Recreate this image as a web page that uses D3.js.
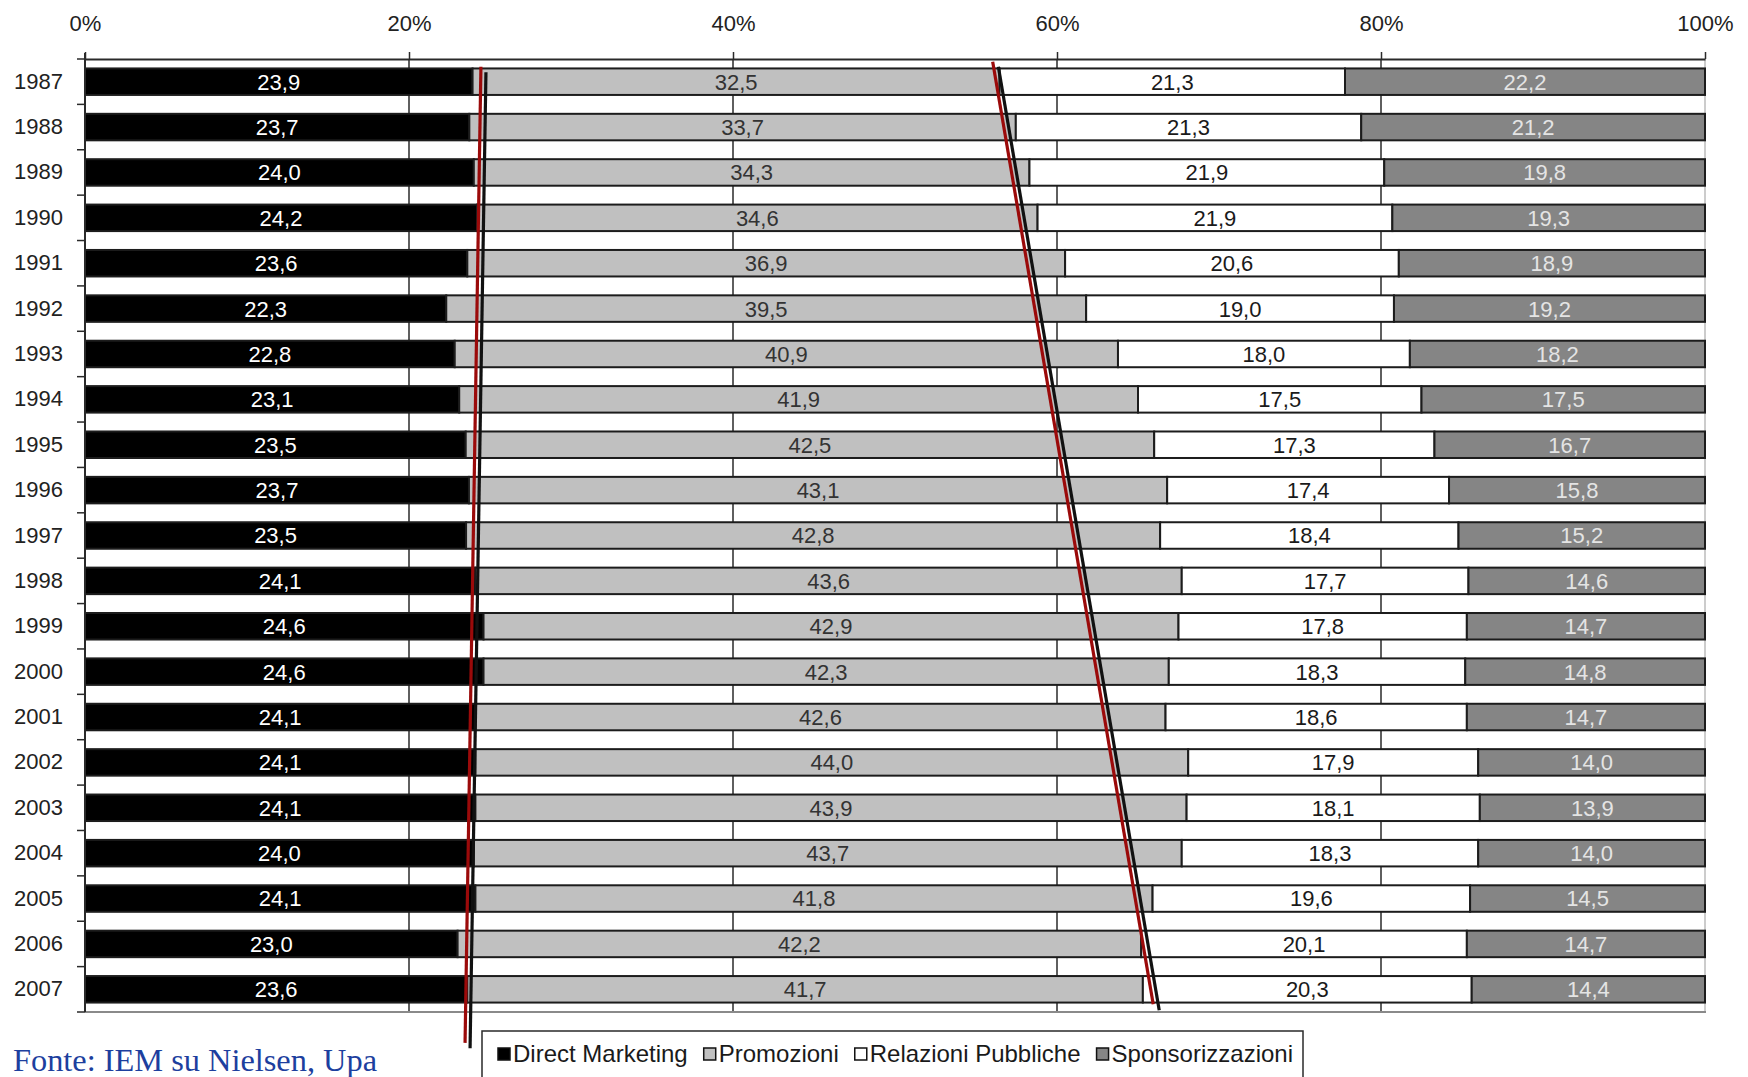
<!DOCTYPE html>
<html>
<head>
<meta charset="utf-8">
<script src="https://cdn.jsdelivr.net/npm/d3@7"></script>
<style>
  html, body { margin: 0; padding: 0; background: #fff; }
  svg { display: block; }
  .sans { font-family: "Liberation Sans", Arial, sans-serif; }
  .serif { font-family: "Liberation Serif", "Times New Roman", serif; }
</style>
</head>
<body>
<svg id="chart" width="1748" height="1077"></svg>
<script>
// Quota percentuale dei mezzi "below the line", 1987-2007
const years = [1987, 1988, 1989, 1990, 1991, 1992, 1993, 1994, 1995, 1996, 1997,
               1998, 1999, 2000, 2001, 2002, 2003, 2004, 2005, 2006, 2007];
const directMarketing    = [23.9, 23.7, 24.0, 24.2, 23.6, 22.3, 22.8, 23.1, 23.5, 23.7, 23.5,
                            24.1, 24.6, 24.6, 24.1, 24.1, 24.1, 24.0, 24.1, 23.0, 23.6];
const promozioni         = [32.5, 33.7, 34.3, 34.6, 36.9, 39.5, 40.9, 41.9, 42.5, 43.1, 42.8,
                            43.6, 42.9, 42.3, 42.6, 44.0, 43.9, 43.7, 41.8, 42.2, 41.7];
const relazioniPubbliche = [21.3, 21.3, 21.9, 21.9, 20.6, 19.0, 18.0, 17.5, 17.3, 17.4, 18.4,
                            17.7, 17.8, 18.3, 18.6, 17.9, 18.1, 18.3, 19.6, 20.1, 20.3];
const sponsorizzazioni   = [22.2, 21.2, 19.8, 19.3, 18.9, 19.2, 18.2, 17.5, 16.7, 15.8, 15.2,
                            14.6, 14.7, 14.8, 14.7, 14.0, 13.9, 14.0, 14.5, 14.7, 14.4];
const seriesNames = ["Direct Marketing", "Promozioni", "Relazioni Pubbliche", "Sponsorizzazioni"];
const xTicks = [0, 0.2, 0.4, 0.6, 0.8, 1];
const sourceNote = "Fonte: IEM su Nielsen, Upa";

// Linee di tendenza tracciate a mano: x in quota (0-1), y in righe (0 = bordo alto del 1987)
const trendLines = [
  { x0: 0.2444, r0: 0.17, x1: 0.2346, r1: 21.68, color: "#9b0a0a" },
  { x0: 0.2475, r0: 0.29, x1: 0.2377, r1: 21.80, color: "#111" },
  { x0: 0.5603, r0: 0.06, x1: 0.6594, r1: 20.83, color: "#9b0a0a" },
  { x0: 0.5638, r0: 0.17, x1: 0.6631, r1: 20.96, color: "#111" }
];

const fills = ["#000000", "#c0c0c0", "#ffffff", "#858585"];
const labelColors = ["#ffffff", "#333333", "#1a1a1a", "#e4e4e4"];

const svg = d3.select("#chart");
const plot = { left: 85, right: 1705, top: 59, bottom: 1012 };

const rows = years.map((y, i) => ({
  year: y,
  "Direct Marketing": directMarketing[i],
  "Promozioni": promozioni[i],
  "Relazioni Pubbliche": relazioniPubbliche[i],
  "Sponsorizzazioni": sponsorizzazioni[i]
}));

const stacked = d3.stack().keys(seriesNames).offset(d3.stackOffsetExpand)(rows);

const x = d3.scaleLinear().domain([0, 1]).range([plot.left, plot.right]);
const y = d3.scaleBand().domain(years).range([plot.top, plot.bottom])
  .paddingInner(0.416).paddingOuter(0.208);
const rowY = d3.scaleLinear().domain([0, years.length]).range([plot.top, plot.bottom]);

const fmt = v => d3.format(".1f")(v).replace(".", ",");

// Griglia verticale
svg.append("g").selectAll("line")
  .data(xTicks.slice(1))
  .join("line")
  .attr("x1", d => x(d)).attr("x2", d => x(d))
  .attr("y1", plot.top).attr("y2", plot.bottom)
  .attr("stroke", d => d === 1 ? "#bbb" : "#2a2a2a")
  .attr("stroke-width", 1.5);

// Barre impilate al 100%
const layers = svg.append("g").selectAll("g")
  .data(stacked)
  .join("g")
  .attr("fill", (d, i) => fills[i]);

layers.selectAll("rect")
  .data(d => d)
  .join("rect")
  .attr("x", d => x(d[0]))
  .attr("width", d => x(d[1]) - x(d[0]))
  .attr("y", d => y(d.data.year))
  .attr("height", y.bandwidth())
  .attr("stroke", "#1c1c1c")
  .attr("stroke-width", 2);

// Etichette dei valori
stacked.forEach((layer, li) => {
  svg.append("g").attr("class", "sans").selectAll("text")
    .data(layer)
    .join("text")
    .attr("x", d => (x(d[0]) + x(d[1])) / 2)
    .attr("y", d => y(d.data.year) + y.bandwidth() / 2)
    .attr("dy", "0.36em")
    .attr("text-anchor", "middle")
    .attr("font-size", 22)
    .attr("fill", labelColors[li])
    .text(d => fmt(d.data[layer.key]));
});

// Asse superiore con le percentuali
const axisTop = d3.axisTop(x).tickValues(xTicks).tickFormat(d3.format(".0%"))
  .tickSize(7).tickSizeOuter(0).tickPadding(21);
const gTop = svg.append("g").attr("transform", `translate(0,${plot.top})`).call(axisTop);
gTop.select(".domain").attr("stroke", "#2a2a2a").attr("stroke-width", 2);
gTop.selectAll(".tick line").attr("stroke", "#2a2a2a").attr("stroke-width", 1.5);
gTop.selectAll(".tick text").attr("class", "sans").attr("font-size", 22).attr("fill", "#222")
  .attr("font-family", null);

// Asse inferiore (solo linea)
svg.append("line")
  .attr("x1", plot.left).attr("x2", plot.right + 1)
  .attr("y1", plot.bottom).attr("y2", plot.bottom)
  .attr("stroke", "#8a8a8a").attr("stroke-width", 2);

// Asse sinistro con gli anni
const axisLeft = d3.axisLeft(y).tickSize(0).tickPadding(22);
const gLeft = svg.append("g").attr("transform", `translate(${plot.left},0)`).call(axisLeft);
gLeft.select(".domain").remove();
gLeft.selectAll(".tick text").attr("class", "sans").attr("font-size", 22).attr("fill", "#222")
  .attr("font-family", null);

svg.append("line")
  .attr("x1", plot.left).attr("x2", plot.left)
  .attr("y1", plot.top - 6).attr("y2", plot.bottom)
  .attr("stroke", "#2a2a2a").attr("stroke-width", 2);
svg.append("g").selectAll("line")
  .data(d3.range(years.length + 1))
  .join("line")
  .attr("x1", plot.left - 8).attr("x2", plot.left)
  .attr("y1", d => rowY(d)).attr("y2", d => rowY(d))
  .attr("stroke", "#2a2a2a").attr("stroke-width", 1.5);

// Linee di tendenza
svg.append("g").selectAll("line")
  .data(trendLines)
  .join("line")
  .attr("x1", d => x(d.x0)).attr("y1", d => rowY(d.r0))
  .attr("x2", d => x(d.x1)).attr("y2", d => rowY(d.r1))
  .attr("stroke", d => d.color)
  .attr("stroke-width", 3.2);

// Legenda
const legend = svg.append("g").attr("class", "sans");
legend.append("rect")
  .attr("x", 482).attr("y", 1031).attr("width", 821).attr("height", 50)
  .attr("fill", "#fff").attr("stroke", "#2a2a2a").attr("stroke-width", 1.5);
let lx = 498;
seriesNames.forEach((name, i) => {
  legend.append("rect")
    .attr("x", lx).attr("y", 1048).attr("width", 12).attr("height", 12)
    .attr("fill", fills[i]).attr("stroke", "#111").attr("stroke-width", 1.5);
  const t = legend.append("text")
    .attr("x", lx + 15).attr("y", 1062)
    .attr("font-size", 24).attr("fill", "#1a1a1a")
    .text(name);
  lx += 15 + t.node().getComputedTextLength() + 16;
});

// Nota sulla fonte
svg.append("text")
  .attr("class", "serif")
  .attr("x", 13).attr("y", 1071)
  .attr("font-size", 32)
  .attr("textLength", 364)
  .attr("lengthAdjust", "spacingAndGlyphs")
  .attr("fill", "#1d3f9e")
  .text(sourceNote);
</script>
</body>
</html>
